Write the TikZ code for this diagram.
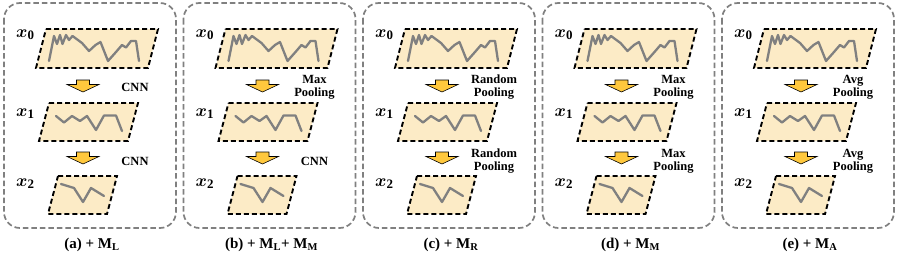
\documentclass[tikz,border=0pt]{standalone}
\usepackage{amsmath,bm}
\usepackage{fontspec}
\setmainfont{Liberation Serif}
\definecolor{boxfill}{HTML}{FCEBC6}
\definecolor{sig}{HTML}{808080}
\definecolor{arrowfill}{HTML}{FFC83D}
\definecolor{framegray}{HTML}{808080}
\begin{document}
\begin{tikzpicture}[x=1pt,y=-1pt,
  panelframe/.style={draw=framegray, dash pattern=on 5.5pt off 3pt, line width=1.7pt, rounded corners=16pt},
  para/.style={draw=black, fill=boxfill, line width=1.9pt, dash pattern=on 5pt off 3pt},
  sigline/.style={draw=sig, line width=2.3pt, line join=round, line cap=round},
  blockarrow/.style={draw=black, fill=arrowfill, line width=0.6pt, line join=miter},
  xlab/.style={font=\fontsize{18.5}{18.5}\selectfont, inner sep=0, anchor=base west},
  oplab/.style={font=\fontsize{12.5}{13}\selectfont\bfseries, align=center, inner sep=0},
  caplab/.style={font=\fontsize{15}{15}\selectfont\bfseries, inner sep=0}]
\useasboundingbox (0,0) rectangle (897,260);
\foreach \i/\la/\lb/\cap in {
  0/{CNN}/{CNN}/{(a) + M\textsubscript{L}},
  1/{Max\\Pooling}/{CNN}/{(b) + M\textsubscript{L}+ M\textsubscript{M}},
  2/{Random\\Pooling}/{Random\\Pooling}/{(c) + M\textsubscript{R}},
  3/{Max\\Pooling}/{Max\\Pooling}/{(d) + M\textsubscript{M}},
  4/{Avg\\Pooling}/{Avg\\Pooling}/{(e) + M\textsubscript{A}}}{
  \begin{scope}[shift={(4+179.5*\i,0)}]
    \draw[panelframe] (0,3) rectangle (172,228);
    % feature maps
    \draw[para] (42,29) -- (154,29) -- (144,68) -- (32,68) -- cycle;
    \draw[para] (45,103) -- (134,103) -- (124,141) -- (35,141) -- cycle;
    \draw[para] (54,176) -- (113,176) -- (103,214) -- (44,214) -- cycle;
    % signals
    \draw[sigline] (45,61) -- (50,36) -- (53,44) -- (56,35) -- (58.5,44) -- (62,35) -- (65,40) -- (68.5,36) -- (78,43) -- (85,51) -- (91.5,45) -- (96.5,42) -- (104,61) -- (112,52) -- (118,45) -- (122,47.5) -- (127,41) -- (132,41) -- (135,61);
    \draw[sigline] (52,116) -- (60,122.5) -- (68,116) -- (76,121) -- (83,116) -- (92,130) -- (100,115.5) -- (112,115.5) -- (118,131);
    \draw[sigline] (57,184) -- (70,188) -- (79,202) -- (87,188) -- (100,196);
    % block arrows
    \draw[blockarrow] (72.5,80) -- (85.5,80) -- (85.5,84.5) -- (95,84.5) -- (79,92) -- (63,84.5) -- (72.5,84.5) -- cycle;
    \draw[blockarrow] (72.5,152) -- (85.5,152) -- (85.5,156.5) -- (95,156.5) -- (79,164) -- (63,156.5) -- (72.5,156.5) -- cycle;
    % labels
    \node[xlab] (x0-\i) at (12,37) {$\bm{x}_{\mathbf{0}}$};
    \node[xlab] (x1-\i) at (12,116) {$\bm{x}_{\mathbf{1}}$};
    \node[xlab] (x2-\i) at (12,186) {$\bm{x}_{\mathbf{2}}$};
    \node[oplab] (opa-\i) at (131,87) {\la};
    \node[oplab] (opb-\i) at (131,161) {\lb};
    \node[caplab] (cap-\i) at (88,245) {\cap};
  \end{scope}
}
\end{tikzpicture}
\end{document}
